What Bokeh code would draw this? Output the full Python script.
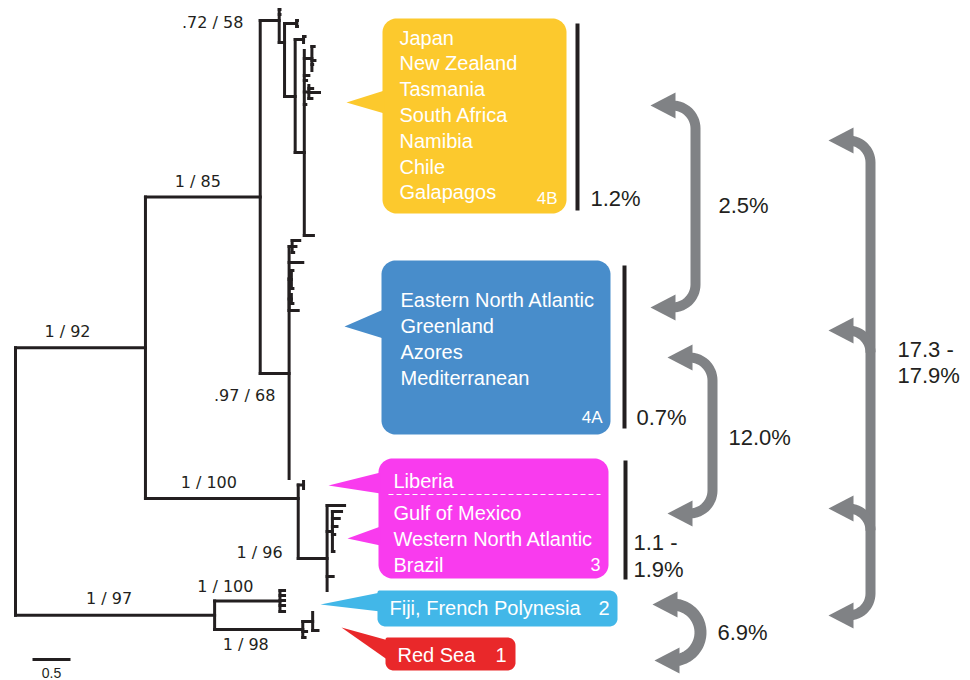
import numpy as np
from bokeh.plotting import figure
from bokeh.models import Range1d
from bokeh.embed import file_html
from bokeh.resources import INLINE
from bokeh.core.properties import value

# ---------------- data ----------------
# tree: (node, parent, branch length in substitutions/site)
tree_edges = [
    ("A", "R", 1.71), ("B", "A", 1.51), ("C", "B", 0.25),
    ("l01", "C", 0.01), ("l02", "C", 0.01), ("C2", "C", 0.07),
    ("N1", "C2", 0.16), ("l03", "N1", 0.01), ("l04", "N1", 0.01),
    ("C3", "C2", 0.14), ("N2", "C3", 0.11), ("l05", "N2", 0.02), ("l06", "N2", 0.0),
    ("C4", "C3", 0.12), ("l07", "C4", 0.0), ("N3", "C4", 0.10), ("l08", "N3", 0.03),
    ("l09", "N3", 0.0), ("l49", "N3", 0.04), ("l10", "N3", 0.01), ("l11", "N3", 0.0),
    ("l50", "C4", 0.06), ("l12", "C4", 0.03), ("N4", "C4", 0.06), ("l13", "N4", 0.0),
    ("l51", "N4", 0.05), ("l14", "N4", 0.14),
    ("l15", "N4", 0.04), ("l16", "C4", 0.02), ("l17", "C4", 0.12),
    ("D4A", "B", 0.38), ("N5", "D4A", 0.0), ("N6", "N5", 0.04), ("l18", "N6", 0.10),
    ("l19", "N6", 0.05), ("l20", "N6", 0.02), ("l21", "N5", 0.18),
    ("N7", "N5", 0.03), ("l22", "N7", 0.02), ("l23", "N7", 0.0), ("l24", "N7", 0.02),
    ("N8", "N5", 0.03), ("l25", "N8", 0.0), ("l26", "N8", 0.02), ("l27", "N5", 0.12),
    ("l28", "D4A", 0.0),
    ("ED", "A", 2.01), ("Lib", "ED", 0.07), ("l29", "Lib", 0.0), ("l30", "Lib", 0.0),
    ("E", "ED", 0.38), ("l31", "E", 0.23), ("N9", "E", 0.07), ("l32", "N9", 0.12),
    ("l33", "N9", 0.09), ("l34", "N9", 0.06), ("l35", "N9", 0.03), ("l36", "N9", 0.0),
    ("l37", "N9", 0.02), ("l38", "E", 0.08), ("l39", "E", 0.0),
    ("F", "R", 2.62), ("G", "F", 0.86), ("l40", "G", 0.06), ("l41", "G", 0.06),
    ("l42", "G", 0.06), ("l43", "G", 0.06), ("l44", "G", 0.06),
    ("H", "F", 1.16), ("N10", "H", 0.13), ("l45", "N10", 0.0), ("l46", "N10", 0.07),
    ("l47", "H", 0.05), ("l48", "H", 0.03),
]
# vertical order (row) of each tip
leaf_rows = {
    "l01": 9, "l02": 14, "l03": 20, "l04": 26, "l05": 36, "l06": 42, "l07": 50, "l08": 46,
    "l09": 55, "l49": 60, "l10": 64, "l11": 70, "l50": 75, "l12": 80, "l13": 85, "l51": 88,
    "l14": 92, "l15": 98, "l16": 104,
    "l17": 235, "l18": 240, "l19": 246, "l20": 252, "l21": 262, "l22": 270, "l23": 279,
    "l24": 288, "l25": 294, "l26": 303, "l27": 310, "l28": 478, "l29": 481, "l30": 488,
    "l31": 505, "l32": 511, "l33": 518, "l34": 526, "l35": 534, "l36": 542, "l37": 551,
    "l38": 576, "l39": 590, "l40": 590, "l41": 595, "l42": 600, "l43": 605, "l44": 611,
    "l45": 612, "l46": 630, "l47": 631, "l48": 637,
}
node_row_overrides = {"C": 20, "C2": 42, "C3": 96, "C4": 152, "D4A": 373, "ED": 498, "E": 558}

support_nodes = ["C", "B", "A", "D4A", "ED", "E", "F", "G", "H"]
support_values = [".72 / 58", "1 / 85", "1 / 92", ".97 / 68", "1 / 100", "1 / 96",
                  "1 / 97", "1 / 100", "1 / 98"]

scale_bar_length = 0.5
scale_bar_label = "0.5"

clade_ids = ["4B", "4A", "3", "2", "1"]
clade_places = [
    ["Japan", "New Zealand", "Tasmania", "South Africa", "Namibia", "Chile", "Galapagos"],
    ["Eastern North Atlantic", "Greenland", "Azores", "Mediterranean"],
    ["Liberia", "Gulf of Mexico", "Western North Atlantic", "Brazil"],
    ["Fiji, French Polynesia"],
    ["Red Sea"],
]
within_divergence = ["1.2%", "0.7%", "1.1 -\n1.9%"]
between_divergence = ["2.5%", "12.0%", "6.9%", "17.3 -\n17.9%"]

# ---------------- layout / style ----------------
PXU = 76.0      # pixels per substitution unit
ROOTX = 15.0
def X(px):
    return (np.asarray(px, dtype=float) - ROOTX) / PXU

INK = "#231F20"
GREY = "#808285"
FONT = value("Liberation Sans")

p = figure(width=970, height=680, x_range=Range1d(float(X(0)), float(X(970))),
           y_range=Range1d(680, 0), output_backend="svg", toolbar_location=None,
           x_axis_location=None, y_axis_location=None, min_border=0)
p.grid.visible = False
p.outline_line_color = None
p.background_fill_color = "white"

# ---------------- tree layout ----------------
children = {}
parent = {}
blen = {}
for n, par, L in tree_edges:
    children.setdefault(par, []).append(n)
    children.setdefault(n, [])
    parent[n] = par
    blen[n] = L

depth = {}
def set_depth(n, d):
    depth[n] = d
    for c in children[n]:
        set_depth(c, d + blen[c])
set_depth("R", 0.0)

row = {}
def set_row(n):
    if not children[n]:
        row[n] = leaf_rows[n]
    else:
        ys = [set_row(c) for c in children[n]]
        row[n] = node_row_overrides.get(n, (min(ys) + max(ys)) / 2)
    return row[n]
set_row("R")

sx0, sy0, sx1, sy1 = [], [], [], []
for n, par, L in tree_edges:
    if L > 0:
        sx0.append(depth[par]); sx1.append(depth[n]); sy0.append(row[n]); sy1.append(row[n])
for n, ch in children.items():
    if ch:
        ys = [row[c] for c in ch]
        sx0.append(depth[n]); sx1.append(depth[n]); sy0.append(min(ys)); sy1.append(max(ys))
p.segment(x0=sx0, y0=sy0, x1=sx1, y1=sy1, line_width=3, line_color=INK, line_cap="square")

# support labels
offsets = [(-57, 2), (-5, -16), (-13, -16), (-30, 22), (-13, -16), (-53, -6), (-6, -17), (-22, -15), (-13, 15)]
lx, ly = [], []
for n, (dx, dy) in zip(support_nodes, offsets):
    mid = (depth[parent[n]] + depth[n]) / 2
    lx.append(mid + dx / PXU)
    ly.append(row[n] + dy)
p.text(x=lx, y=ly, text=support_values, text_font=value("DejaVu Sans"), text_font_size="16px",
       text_color=INK, text_align="center", text_baseline="middle")

# scale bar
sb0 = float(X(32))
p.segment(x0=[sb0], y0=[659], x1=[sb0 + scale_bar_length], y1=[659], line_width=3, line_color=INK)
p.text(x=[sb0 + scale_bar_length / 2], y=[672], text=[scale_bar_label], text_font=FONT,
       text_font_size="14px", text_color=INK, text_align="center", text_baseline="middle")

# ---------------- callout boxes ----------------
def arc(cx, cy, r, t0, t1, n=16):
    t = np.linspace(t0, t1, n)
    return list(cx + r * np.cos(t)), list(cy + r * np.sin(t))

def rrect(x0, y0, x1, y1, radii):
    rtl, rtr, rbr, rbl = radii
    xs, ys = [], []
    for (cx, cy, r, t0, t1) in [(x0 + rtl, y0 + rtl, rtl, np.pi, 1.5 * np.pi),
                                (x1 - rtr, y0 + rtr, rtr, 1.5 * np.pi, 2 * np.pi),
                                (x1 - rbr, y1 - rbr, rbr, 0, 0.5 * np.pi),
                                (x0 + rbl, y1 - rbl, rbl, 0.5 * np.pi, np.pi)]:
        a, b = arc(cx, cy, r, t0, t1)
        xs += a; ys += b
    return xs, ys

BOXES = {
    "4B": dict(rect=(382, 18, 566, 213), radii=(14, 14, 14, 14), color="#FCC92D",
               tails=[[(346, 102), (384, 90), (384, 113)]],
               tx=399, tys=[37, 62.8, 88.6, 114.4, 140.2, 166, 191.8],
               tag=(557, 198, "17px")),
    "4A": dict(rect=(381, 260, 610, 434), radii=(14, 14, 14, 14), color="#488DCB",
               tails=[[(344, 326), (383, 309), (383, 338)]],
               tx=400, tys=[299, 325, 351, 377], tag=(602, 417, "17px")),
    "3": dict(rect=(378, 458, 608, 578), radii=(14, 14, 14, 14), color="#F93BEE",
              tails=[[(328, 485), (380, 472), (380, 493)], [(347, 538), (380, 526), (380, 545)]],
              tx=393, tys=[480, 512, 538, 564], tag=(600, 564, "18px")),
    "2": dict(rect=(377, 590, 617, 626), radii=(2, 8, 8, 8), color="#42B7E8",
              tails=[[(320, 604), (380, 592), (380, 611)]],
              tx=389, tys=[607], tag=(609, 607, "20px")),
    "1": dict(rect=(385, 637, 515, 670), radii=(2, 8, 8, 8), color="#E9282A",
              tails=[[(341, 627), (388, 640), (388, 660)]],
              tx=397, tys=[654], tag=(506, 654, "20px")),
}

for cid, places in zip(clade_ids, clade_places):
    b = BOXES[cid]
    xs, ys = rrect(*b["rect"], b["radii"])
    p.patch(x=list(X(xs)), y=ys, fill_color=b["color"], line_color=None)
    for tri in b["tails"]:
        p.patch(x=list(X([q[0] for q in tri])), y=[q[1] for q in tri], fill_color=b["color"], line_color=None)
    p.text(x=[float(X(b["tx"]))] * len(places), y=b["tys"], text=places, text_font=FONT,
           text_font_size="20px", text_color="white", text_align="left", text_baseline="middle")
    tgx, tgy, tgs = b["tag"]
    p.text(x=[float(X(tgx))], y=[tgy], text=[cid], text_font=FONT, text_font_size=tgs,
           text_color="white", text_align="right", text_baseline="middle")

# dashed separator under Liberia
p.segment(x0=[float(X(388))], y0=[494], x1=[float(X(600))], y1=[494], line_color="white",
          line_width=1, line_dash="5 3")

# ---------------- within-clade divergence bars ----------------
bars = [(577, 23, 210), (624, 265, 428), (625, 460, 579)]
p.segment(x0=[float(X(b[0])) for b in bars], y0=[b[1] for b in bars],
          x1=[float(X(b[0])) for b in bars], y1=[b[2] for b in bars], line_width=4, line_color=INK)
wpos = [(590, [198]), (636, [417]), (633, [542, 569])]
for txt, (px, pys) in zip(within_divergence, wpos):
    parts = txt.split("\n")
    p.text(x=[float(X(px))] * len(parts), y=pys, text=parts, text_font=FONT, text_font_size="22px",
           text_color=INK, text_align="left", text_baseline="middle")

# ---------------- between-clade arrows ----------------
def head(tipx, y):
    p.patch(x=list(X([tipx, tipx + 25, tipx + 25])), y=[y, y - 13, y + 13],
            fill_color=GREY, line_color=None)

def shaft(xs, ys, w=10):
    p.line(x=list(X(xs)), y=ys, line_width=w, line_color=GREY, line_join="round")

# 2.5%
a1 = arc(672, 128, 23, 1.5 * np.pi, 2 * np.pi); a2 = arc(672, 284, 23, 0, 0.5 * np.pi)
shaft([664] + a1[0] + a2[0] + [664], [105] + a1[1] + a2[1] + [307])
head(650, 105); head(650, 307)
# 12.0%
a1 = arc(689, 380, 23, 1.5 * np.pi, 2 * np.pi); a2 = arc(689, 490, 23, 0, 0.5 * np.pi)
shaft([681] + a1[0] + a2[0] + [681], [357] + a1[1] + a2[1] + [513])
head(667, 357); head(667, 513)
# 6.9%
a1 = arc(672, 632, 28, 1.5 * np.pi, 2.5 * np.pi, 30)
shaft([665] + a1[0] + [667], [604] + a1[1] + [660], w=12)
head(652, 604); head(654, 660)
# 17.3 - 17.9%
a1 = arc(848, 162, 22, 1.5 * np.pi, 2 * np.pi); a2 = arc(848, 593, 22, 0, 0.5 * np.pi)
shaft([840] + a1[0] + a2[0] + [840], [140] + a1[1] + a2[1] + [615])
head(828, 140); head(828, 615)
for yy in (330, 508):
    a3 = arc(848, yy + 22, 22, 1.5 * np.pi, 2 * np.pi)
    shaft([840] + a3[0], [yy] + a3[1])
    head(828, yy)

bpos = [(718, [205]), (728, [437]), (717, [632]), (897, [349, 375])]
for txt, (px, pys) in zip(between_divergence, bpos):
    parts = txt.split("\n")
    p.text(x=[float(X(px))] * len(parts), y=pys, text=parts, text_font=FONT, text_font_size="22px",
           text_color=INK, text_align="left", text_baseline="middle")

open("out.html", "w").write(file_html(p, INLINE))
